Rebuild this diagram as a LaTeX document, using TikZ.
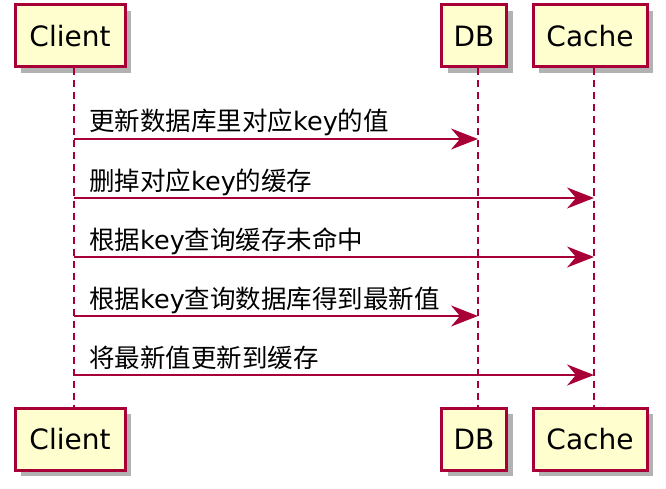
\documentclass[tikz,border=0pt]{standalone}
\usepackage{fontspec}
\setmainfont{DejaVu Sans}
\newfontfamily\cjk{Noto Sans CJK SC}
\newcommand{\zh}[1]{{\cjk #1}}
\usetikzlibrary{arrows.meta,shadows,calc}
\definecolor{umlred}{HTML}{A80036}
\definecolor{umlfill}{HTML}{FEFECE}
\tikzset{
	actor/.style={draw=umlred,line width=3pt,line join=miter,fill=umlfill,minimum height=62pt,inner sep=0pt,
		font=\fontsize{28}{30}\selectfont,
		drop shadow={shadow xshift=6pt,shadow yshift=-6pt,fill=black,opacity=0.3}},
	life/.style={umlred,line width=2pt,dash pattern=on 7pt off 5pt},
	msg/.style={umlred,line width=2pt,-{Stealth[length=27pt,width=21pt,inset=9pt]}},
	msglabel/.style={anchor=base west,font=\fontsize{25.5}{28}\selectfont,text=black,inner sep=0pt}
}
\begin{document}
\begin{tikzpicture}[x=1pt,y=-1pt,line join=round]
	\useasboundingbox (0,0) rectangle (666,489);
	% participants
	\node[actor,minimum width=110pt] (clientTop) at (70,36) {Client};
	\node[actor,minimum width=65pt] (dbTop) at (474,36) {DB};
	\node[actor,minimum width=114pt] (cacheTop) at (590,36) {Cache};
	\node[actor,minimum width=110pt] (clientBot) at (70,439) {Client};
	\node[actor,minimum width=65pt] (dbBot) at (474,439) {DB};
	\node[actor,minimum width=114pt] (cacheBot) at (590,439) {Cache};
	% lifelines
	\coordinate (client) at ($(clientTop.south)+(4,0)$);
	\coordinate (db) at ($(dbTop.south)+(4,0)$);
	\coordinate (cache) at ($(cacheTop.south)+(4,0)$);
	\draw[life] (client) -- (client |- clientBot.north);
	\draw[life] (db) -- (db |- dbBot.north);
	\draw[life] (cache) -- (cache |- cacheBot.north);
	% messages
	\foreach \y/\to/\txt in {139/db/\zh{更新数据库里对应}key\zh{的值},198/cache/\zh{删掉对应}key\zh{的缓存},
		257/cache/\zh{根据}key\zh{查询缓存未命中},316/db/\zh{根据}key\zh{查询数据库得到最新值},375/cache/\zh{将最新值更新到缓存}}{
		\draw[msg] (client |- 0,\y) -- (\to |- 0,\y);
		\node[msglabel] at ($(client |- 0,\y)+(15,-8)$) {\txt};
	}
\end{tikzpicture}
\end{document}
